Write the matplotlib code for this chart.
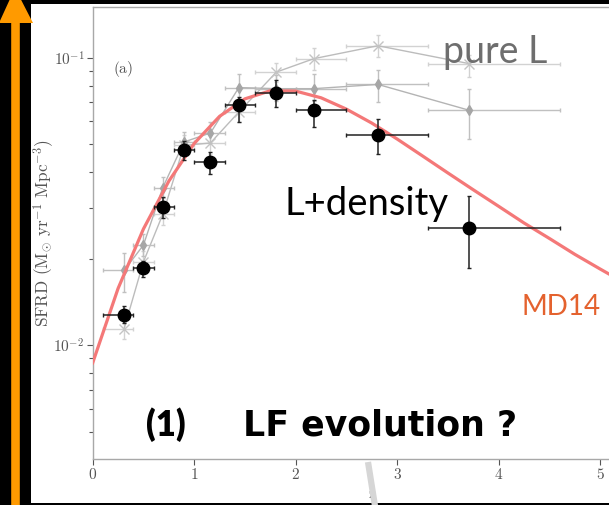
import matplotlib
matplotlib.use("Agg")
import matplotlib.pyplot as plt
from matplotlib.patches import Rectangle, Polygon
from matplotlib.lines import Line2D

plt.rcParams["mathtext.fontset"] = "cm"

# Redshift bins
z_mid = [0.31, 0.5, 0.69, 0.9, 1.16, 1.44, 1.81, 2.18, 2.81, 3.71]
z_lo = [0.1, 0.4, 0.6, 0.8, 1.0, 1.3, 1.6, 2.0, 2.5, 3.3]
z_hi = [0.4, 0.6, 0.8, 1.0, 1.3, 1.6, 2.0, 2.5, 3.3, 4.6]

# Luminosity + density evolution (black circles)
sfrd_ld = [0.0127, 0.0185, 0.0303, 0.0477, 0.0433, 0.0686, 0.0755, 0.0656, 0.0537, 0.0256]
sfrd_ld_lo = [0.0119, 0.0172, 0.0278, 0.0440, 0.0395, 0.0597, 0.0673, 0.0574, 0.0464, 0.0185]
sfrd_ld_hi = [0.0137, 0.0197, 0.0327, 0.0515, 0.0470, 0.0730, 0.0834, 0.0711, 0.0614, 0.0330]

# Alternative evolution model (grey diamonds)
sfrd_dm = [0.0182, 0.0223, 0.0353, 0.0509, 0.0547, 0.0787, 0.0780, 0.0780, 0.0807, 0.0656]
sfrd_dm_lo = [0.0153, 0.0205, 0.0325, 0.0470, 0.0505, 0.0715, 0.0705, 0.0705, 0.0701, 0.0523]
sfrd_dm_hi = [0.0209, 0.0243, 0.0385, 0.0550, 0.0595, 0.0880, 0.0870, 0.0880, 0.0903, 0.0780]

# Pure luminosity evolution (light grey crosses)
sfrd_pl = [0.01143, 0.0195, 0.0285, 0.0495, 0.0505, 0.0647, 0.0891, 0.0992, 0.1100, 0.0953]
sfrd_pl_lo = [0.0105, 0.0180, 0.0262, 0.0455, 0.0462, 0.0597, 0.0823, 0.0904, 0.1005, 0.0854]
sfrd_pl_hi = [0.0122, 0.0212, 0.0310, 0.0540, 0.0550, 0.0700, 0.0955, 0.1077, 0.1195, 0.1020]

# Madau & Dickinson (2014) cosmic SFRD curve
z_md = [0.0, 0.25, 0.5, 0.75, 1.0, 1.25, 1.5, 1.75, 2.0, 2.25, 2.5, 2.75, 3.0,
        3.25, 3.5, 3.75, 4.0, 4.25, 4.5, 4.75, 5.0, 5.25, 5.5]
sfrd_md = [0.00868, 0.01575, 0.02537, 0.0372, 0.0503, 0.0625, 0.0719, 0.0767,
           0.0765, 0.0725, 0.0662, 0.0592, 0.0521, 0.0455, 0.0397, 0.0347,
           0.0304, 0.0266, 0.0235, 0.0207, 0.0184, 0.0164, 0.0147]

x_ticks = [0, 1, 2, 3, 4, 5]
y_ticks = [1e-2, 1e-1]
y_tick_labels = [r"$10^{-2}$", r"$10^{-1}$"]

W, H = 609, 505
fig = plt.figure(figsize=(W / 100, H / 100), dpi=100, facecolor="black")


def fx(px):
    return px / W


def fy(py):
    return 1 - py / H


# white slide area
fig.patches.append(Rectangle((fx(31), fy(503)), fx(609) - fx(31), fy(4) - fy(503),
                             transform=fig.transFigure, facecolor="white",
                             edgecolor="none", zorder=-5))

# orange arrow on the left
fig.lines.append(Line2D([fx(15), fx(15)], [fy(505), fy(15)], transform=fig.transFigure,
                        color="#FF9A00", lw=6.2, solid_capstyle="butt", zorder=-4))
fig.patches.append(Polygon([(fx(-1), fy(23)), (fx(33), fy(23)), (fx(15), fy(-12))],
                           closed=True, transform=fig.transFigure,
                           facecolor="#FF9A00", edgecolor="none", zorder=-4))

x0_px, unit_px = 92.7, 101.5
xmax = 5.5
ax = fig.add_axes([fx(x0_px), fy(459), (unit_px * xmax) / W, fy(7) - fy(459)])
ax.set_facecolor("none")
ax.set_yscale("log")
ax.set_xlim(0, xmax)
ax.set_ylim(0.00402, 0.150)

spine_c = "#a8a8a8"
for s in ax.spines.values():
    s.set_color(spine_c)
    s.set_linewidth(1.0)

ax.set_xticks(x_ticks)
ax.set_xticklabels([rf"${t}$" for t in x_ticks])
ax.set_yticks(y_ticks)
ax.set_yticklabels(y_tick_labels)
ax.tick_params(axis="both", which="major", direction="out", length=4, width=0.8,
               color="#555555", labelcolor="#555555", labelsize=11, pad=2)
ax.tick_params(axis="y", which="minor", direction="out", length=3, width=0.8,
               color="#555555")
ax.tick_params(axis="x", which="minor", bottom=False)

ax.set_xlabel(r"$\mathrm{z}$", fontsize=11, color="#555555", labelpad=3)


def errs(vals, lo, hi):
    return [[v - l for v, l in zip(vals, lo)], [h - v for v, h in zip(vals, hi)]]


xe = [[m - l for m, l in zip(z_mid, z_lo)], [h - m for m, h in zip(z_mid, z_hi)]]

# pure L crosses
ax.errorbar(z_mid, sfrd_pl, xerr=xe, yerr=errs(sfrd_pl, sfrd_pl_lo, sfrd_pl_hi),
            fmt="x", ms=7, mew=1.0, color="#c4c4c4", ecolor="#d2d2d2",
            elinewidth=1.0, capsize=1.5, zorder=2)
ax.plot(z_mid, sfrd_pl, "-", color="#bcbcbc", lw=1.0, zorder=2)

# grey diamonds
ax.errorbar(z_mid, sfrd_dm, xerr=xe, yerr=errs(sfrd_dm, sfrd_dm_lo, sfrd_dm_hi),
            fmt="d", ms=5, color="#a6a6a6", ecolor="#c0c0c0",
            elinewidth=1.0, capsize=1.5, zorder=3)
ax.plot(z_mid, sfrd_dm, "-", color="#b4b4b4", lw=1.0, zorder=3)

# MD14 curve
ax.plot(z_md, sfrd_md, "-", color="#F47878", lw=2.3, zorder=4)

# L+density
ax.errorbar(z_mid, sfrd_ld, xerr=xe, yerr=errs(sfrd_ld, sfrd_ld_lo, sfrd_ld_hi),
            fmt="o", ms=9, color="black", ecolor="#222222",
            elinewidth=1.1, capsize=1.5, zorder=5)

fig.text(fx(113), fy(73), r"$\mathrm{(a)}$", fontsize=11, color="#555555",
         ha="left", va="baseline")

fig.text(fx(44), fy(233), r"$\mathrm{SFRD\ (M_{\odot}\ yr^{-1}\ Mpc^{-3})}$",
         rotation=90, fontsize=12.5, color="#555555", ha="center", va="center")

# slide annotations
sans = ["Lato", "DejaVu Sans"]
bold = ["DejaVu Sans"]
fig.text(fx(443), fy(63), "pure L", fontsize=27, color="#6e6e6e",
         family=sans, ha="left", va="baseline")
fig.text(fx(285), fy(215), "L+density", fontsize=27.5, color="black",
         family=sans, ha="left", va="baseline")
fig.text(fx(522), fy(315), "MD14", fontsize=20, color="#E4622E",
         family=sans, ha="left", va="baseline")
fig.text(fx(146), fy(436), "(1)", fontsize=25, color="black", fontweight="heavy",
         family=sans, ha="left", va="baseline")
fig.text(fx(243), fy(436), "LF evolution ?", fontsize=25, color="black",
         fontweight="bold", family=bold, ha="left", va="baseline")

# grey pointer stroke at the bottom
fig.lines.append(Line2D([fx(368), fx(375)], [fy(462), fy(506)], transform=fig.transFigure,
                        color="#d6d6d6", lw=4.5, solid_capstyle="butt", zorder=6))

fig.savefig("out.png", dpi=100, facecolor="black")
